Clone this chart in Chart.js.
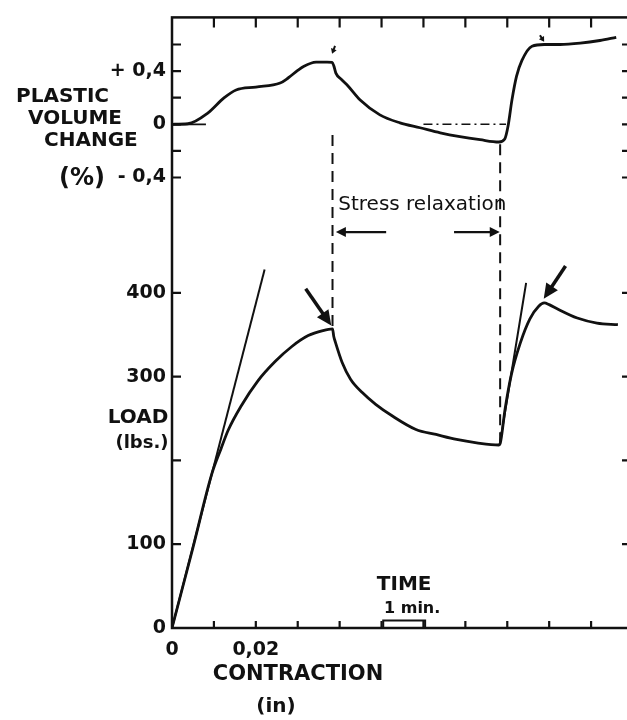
<!DOCTYPE html>
<html><head><meta charset="utf-8">
<script src="https://cdn.jsdelivr.net/npm/chart.js@4.4.0/dist/chart.umd.min.js"></script>
<style>
html,body{margin:0;padding:0;background:#fff;overflow:hidden;width:627px;height:720px}
#wrap{position:absolute;left:0;top:0;width:645px;height:720px}
canvas{display:block}
</style></head>
<body><div id="wrap"><canvas id="c" width="645" height="720"></canvas></div>
<script>
// ---- data (x in inches of contraction / time axis) ----
const volX = [0, 0.0038, 0.0086, 0.0124, 0.0153, 0.0200, 0.0258, 0.0277, 0.0300, 0.0315, 0.0344, 0.0370, 0.0382, 0.0386, 0.0391, 0.0405, 0.0420, 0.0449, 0.0496, 0.0544, 0.0592, 0.0640, 0.0687, 0.0735, 0.0780, 0.0794, 0.0802, 0.0811, 0.0822, 0.0835, 0.0859, 0.0888, 0.0926, 0.0974, 0.1021, 0.1060];
const volY = [0, 0.004, 0.086, 0.198, 0.258, 0.280, 0.310, 0.348, 0.405, 0.437, 0.467, 0.468, 0.466, 0.440, 0.385, 0.335, 0.288, 0.183, 0.071, 0.011, -0.026, -0.064, -0.093, -0.116, -0.133, -0.110, -0.011, 0.180, 0.360, 0.480, 0.587, 0.600, 0.600, 0.610, 0.630, 0.654];

const loadX = [0, 0.0050, 0.0095, 0.0117, 0.0134, 0.0165, 0.0205, 0.0246, 0.0286, 0.0325, 0.0360, 0.0383, 0.0386, 0.0390, 0.0406, 0.0426, 0.0454, 0.0486, 0.0526, 0.0582, 0.0630, 0.0679, 0.0727, 0.0780, 0.0783, 0.0795, 0.0810, 0.0831, 0.0854, 0.0875, 0.0888, 0.0900, 0.0919, 0.0967, 0.1014, 0.1064];
const loadY = [0, 96, 184, 214, 236, 265, 295, 318, 336, 349, 355, 357, 348, 341, 317, 297, 281, 267, 253, 237, 231, 225, 221, 218.4, 220, 262, 303, 340, 369, 384, 388, 386, 381, 370, 364, 362];

const tangent1X = [0, 0.0221];
const tangent1Y = [0, 428];
const tangent2X = [0.0782, 0.0845];
const tangent2Y = [219, 412];

const zeroSolidX = [0, 0.0081];
const zeroDashX = [0.0600, 0.0797];

const relaxX = [0.0383, 0.0783];
const relaxTopVol = [-0.08, -0.15];
const relaxBottomLoad = [357, 219];

const stressArrowVol = -0.81;
const stressArrowFromX = [0.0511, 0.0673];
const stressArrowToX = [0.0391, 0.0782];

const bigArrowFromX = [0.0319, 0.0939];
const bigArrowFromLoad = [405, 432];
const bigArrowToX = [0.0380, 0.0887];
const bigArrowToLoad = [361, 393];

const smallArrowFromX = [0.0389, 0.0878];
const smallArrowFromVol = [0.59, 0.67];
const smallArrowToX = [0.0382, 0.0888];
const smallArrowToVol = [0.53, 0.62];

const timeBarX = [0.0504, 0.0604];
const timeBarLoad = 9;

const xTickLabels = {0: '0', 2: '0,02'};
const loadTickLabels = {0: '0', 100: '100', 300: '300', 400: '400'};
const loadTickMarks = [100, 200, 300, 400];
const volTickMarks = [-0.4, -0.2, 0, 0.2, 0.4, 0.6];
const volTickLabels = {'0.4': '+ 0,4', '0': '0', '-0.4': '- 0,4'};

const pts = (xs, ys) => xs.map((x, i) => ({x, y: ys[i]}));
const INK = '#111';
const FONT = '"DejaVu Sans", sans-serif';

const decor = {
  id: 'decor',
  afterDatasetsDraw(chart) {
    const {ctx, chartArea: a, scales} = chart;
    const X = scales.x, L = scales.yl, V = scales.yv;
    ctx.save();
    ctx.strokeStyle = INK; ctx.fillStyle = INK;
    // frame
    ctx.lineWidth = 2.5;
    ctx.strokeRect(a.left, a.top, a.right - a.left, a.bottom - a.top);
    // inward ticks
    ctx.lineWidth = 2.2;
    ctx.beginPath();
    for (let i = 1; i <= 10; i++) {
      const px = X.getPixelForValue(i / 100);
      ctx.moveTo(px, a.top); ctx.lineTo(px, a.top + 10);
      ctx.moveTo(px, a.bottom); ctx.lineTo(px, a.bottom - 7);
    }
    loadTickMarks.forEach(v => {
      const py = L.getPixelForValue(v);
      ctx.moveTo(a.left, py); ctx.lineTo(a.left + 9, py);
      ctx.moveTo(a.right, py); ctx.lineTo(a.right - 11, py);
    });
    volTickMarks.forEach(v => {
      const py = V.getPixelForValue(v);
      ctx.moveTo(a.left, py); ctx.lineTo(a.left + 9, py);
      ctx.moveTo(a.right, py); ctx.lineTo(a.right - 11, py);
    });
    ctx.stroke();

    const txt = (s, x, y, font, align) => {
      ctx.font = font; ctx.textAlign = align || 'left'; ctx.textBaseline = 'middle';
      ctx.fillText(s, x, y);
    };
    // volume tick labels
    volTickMarks.forEach(v => {
      const key = String(v);
      if (volTickLabels[key] !== undefined) txt(volTickLabels[key], a.left - 6, V.getPixelForValue(v), 'bold 19px ' + FONT, 'right');
    });
    // axis titles
    const B20 = 'bold 20px ' + FONT;
    txt('PLASTIC', 16, 97, B20);
    txt('VOLUME', 28, 119, B20);
    txt('CHANGE', 44, 141, B20);
    txt('(%)', 82, 179, 'bold 24px ' + FONT, 'center');
    txt('LOAD', 138, 418, B20, 'center');
    txt('(lbs.)', 142, 443, 'bold 18px ' + FONT, 'center');
    txt('CONTRACTION', 298, 675, 'bold 21px ' + FONT, 'center');
    txt('(in)', 276, 707, B20, 'center');

    // time bar
    const t0 = X.getPixelForValue(timeBarX[0]), t1 = X.getPixelForValue(timeBarX[1]);
    const ty = L.getPixelForValue(timeBarLoad);
    ctx.lineWidth = 2;
    ctx.beginPath();
    ctx.moveTo(t0, a.bottom); ctx.lineTo(t0, ty); ctx.lineTo(t1, ty); ctx.lineTo(t1, a.bottom);
    ctx.stroke();
    txt('TIME', (t0 + t1) / 2, ty - 36, B20, 'center');
    txt('1 min.', (t0 + t1) / 2 + 8, ty - 12, 'bold 16px ' + FONT, 'center');

    // stress relaxation text
    txt('Stress relaxation', (X.getPixelForValue(relaxX[0]) + X.getPixelForValue(relaxX[1])) / 2 + 6, V.getPixelForValue(stressArrowVol) - 27, '20px ' + FONT, 'center');

    // dashed verticals
    ctx.lineWidth = 2;
    ctx.setLineDash([11, 7]);
    ctx.beginPath();
    relaxX.forEach((x, i) => {
      const px = X.getPixelForValue(x);
      ctx.moveTo(px, V.getPixelForValue(relaxTopVol[i]));
      ctx.lineTo(px, L.getPixelForValue(relaxBottomLoad[i]));
    });
    ctx.stroke();
    ctx.setLineDash([]);

    const arrow = (x0, y0, x1, y1, w, head, hw) => {
      const ang = Math.atan2(y1 - y0, x1 - x0);
      ctx.lineWidth = w;
      ctx.beginPath();
      ctx.moveTo(x0, y0);
      ctx.lineTo(x1 - Math.cos(ang) * head * 0.7, y1 - Math.sin(ang) * head * 0.7);
      ctx.stroke();
      ctx.beginPath();
      ctx.moveTo(x1, y1);
      ctx.lineTo(x1 - Math.cos(ang) * head + Math.sin(ang) * hw, y1 - Math.sin(ang) * head - Math.cos(ang) * hw);
      ctx.lineTo(x1 - Math.cos(ang) * head - Math.sin(ang) * hw, y1 - Math.sin(ang) * head + Math.cos(ang) * hw);
      ctx.closePath();
      ctx.fill();
    };
    const sy = V.getPixelForValue(stressArrowVol);
    stressArrowFromX.forEach((x, i) => arrow(X.getPixelForValue(x), sy, X.getPixelForValue(stressArrowToX[i]), sy, 2.2, 10, 5));
    bigArrowFromX.forEach((x, i) => arrow(X.getPixelForValue(x), L.getPixelForValue(bigArrowFromLoad[i]),
      X.getPixelForValue(bigArrowToX[i]), L.getPixelForValue(bigArrowToLoad[i]), 3.5, 15, 7));
    smallArrowFromX.forEach((x, i) => arrow(X.getPixelForValue(x), V.getPixelForValue(smallArrowFromVol[i]),
      X.getPixelForValue(smallArrowToX[i]), V.getPixelForValue(smallArrowToVol[i]), 2, 5, 3));
    ctx.restore();
  }
};

const curve = (data, axis, w, extra) => Object.assign({
  data, yAxisID: axis, borderColor: INK, borderWidth: w, pointRadius: 0,
  fill: false, cubicInterpolationMode: 'monotone'
}, extra || {});

new Chart(document.getElementById('c'), {
  type: 'line',
  data: {
    datasets: [
      curve(pts(volX, volY), 'yv', 2.8),
      curve(pts(zeroSolidX, [0, 0]), 'yv', 1.8),
      curve(pts(zeroDashX, [0, 0]), 'yv', 1.6, {borderDash: [9, 4, 2, 4]}),
      curve(pts(loadX, loadY), 'yl', 2.8),
      curve(pts(tangent1X, tangent1Y), 'yl', 2),
      curve(pts(tangent2X, tangent2Y), 'yl', 2)
    ]
  },
  options: {
    responsive: false,
    animation: false,
    events: [],
    layout: {padding: {top: 14, right: 12, left: 0, bottom: 0}},
    plugins: {legend: {display: false}, tooltip: {enabled: false}, title: {display: false}},
    scales: {
      x: {
        type: 'linear', position: 'bottom', min: 0, max: 0.11,
        grid: {display: false, drawTicks: false}, border: {display: false},
        ticks: {
          stepSize: 0.01, autoSkip: false, maxRotation: 0, padding: 11, color: INK,
          font: {family: FONT, size: 19, weight: 'bold'},
          callback: v => { const k = Math.round(v * 100); return xTickLabels[k] !== undefined ? xTickLabels[k] : ''; }
        },
        afterFit: s => { s.height = 92; }
      },
      yl: {
        type: 'linear', position: 'left', min: 0, max: 728.8,
        grid: {display: false, drawTicks: false}, border: {display: false},
        ticks: {
          stepSize: 100, padding: 6, color: INK,
          font: {family: FONT, size: 19, weight: 'bold'},
          callback: v => { const k = Math.round(v); return loadTickLabels[k] !== undefined ? loadTickLabels[k] : ''; }
        },
        afterFit: s => { s.width = 172; }
      },
      yv: {type: 'linear', display: false, min: -3.787, max: 0.8037}
    }
  },
  plugins: [decor]
});
</script>
</body></html>
